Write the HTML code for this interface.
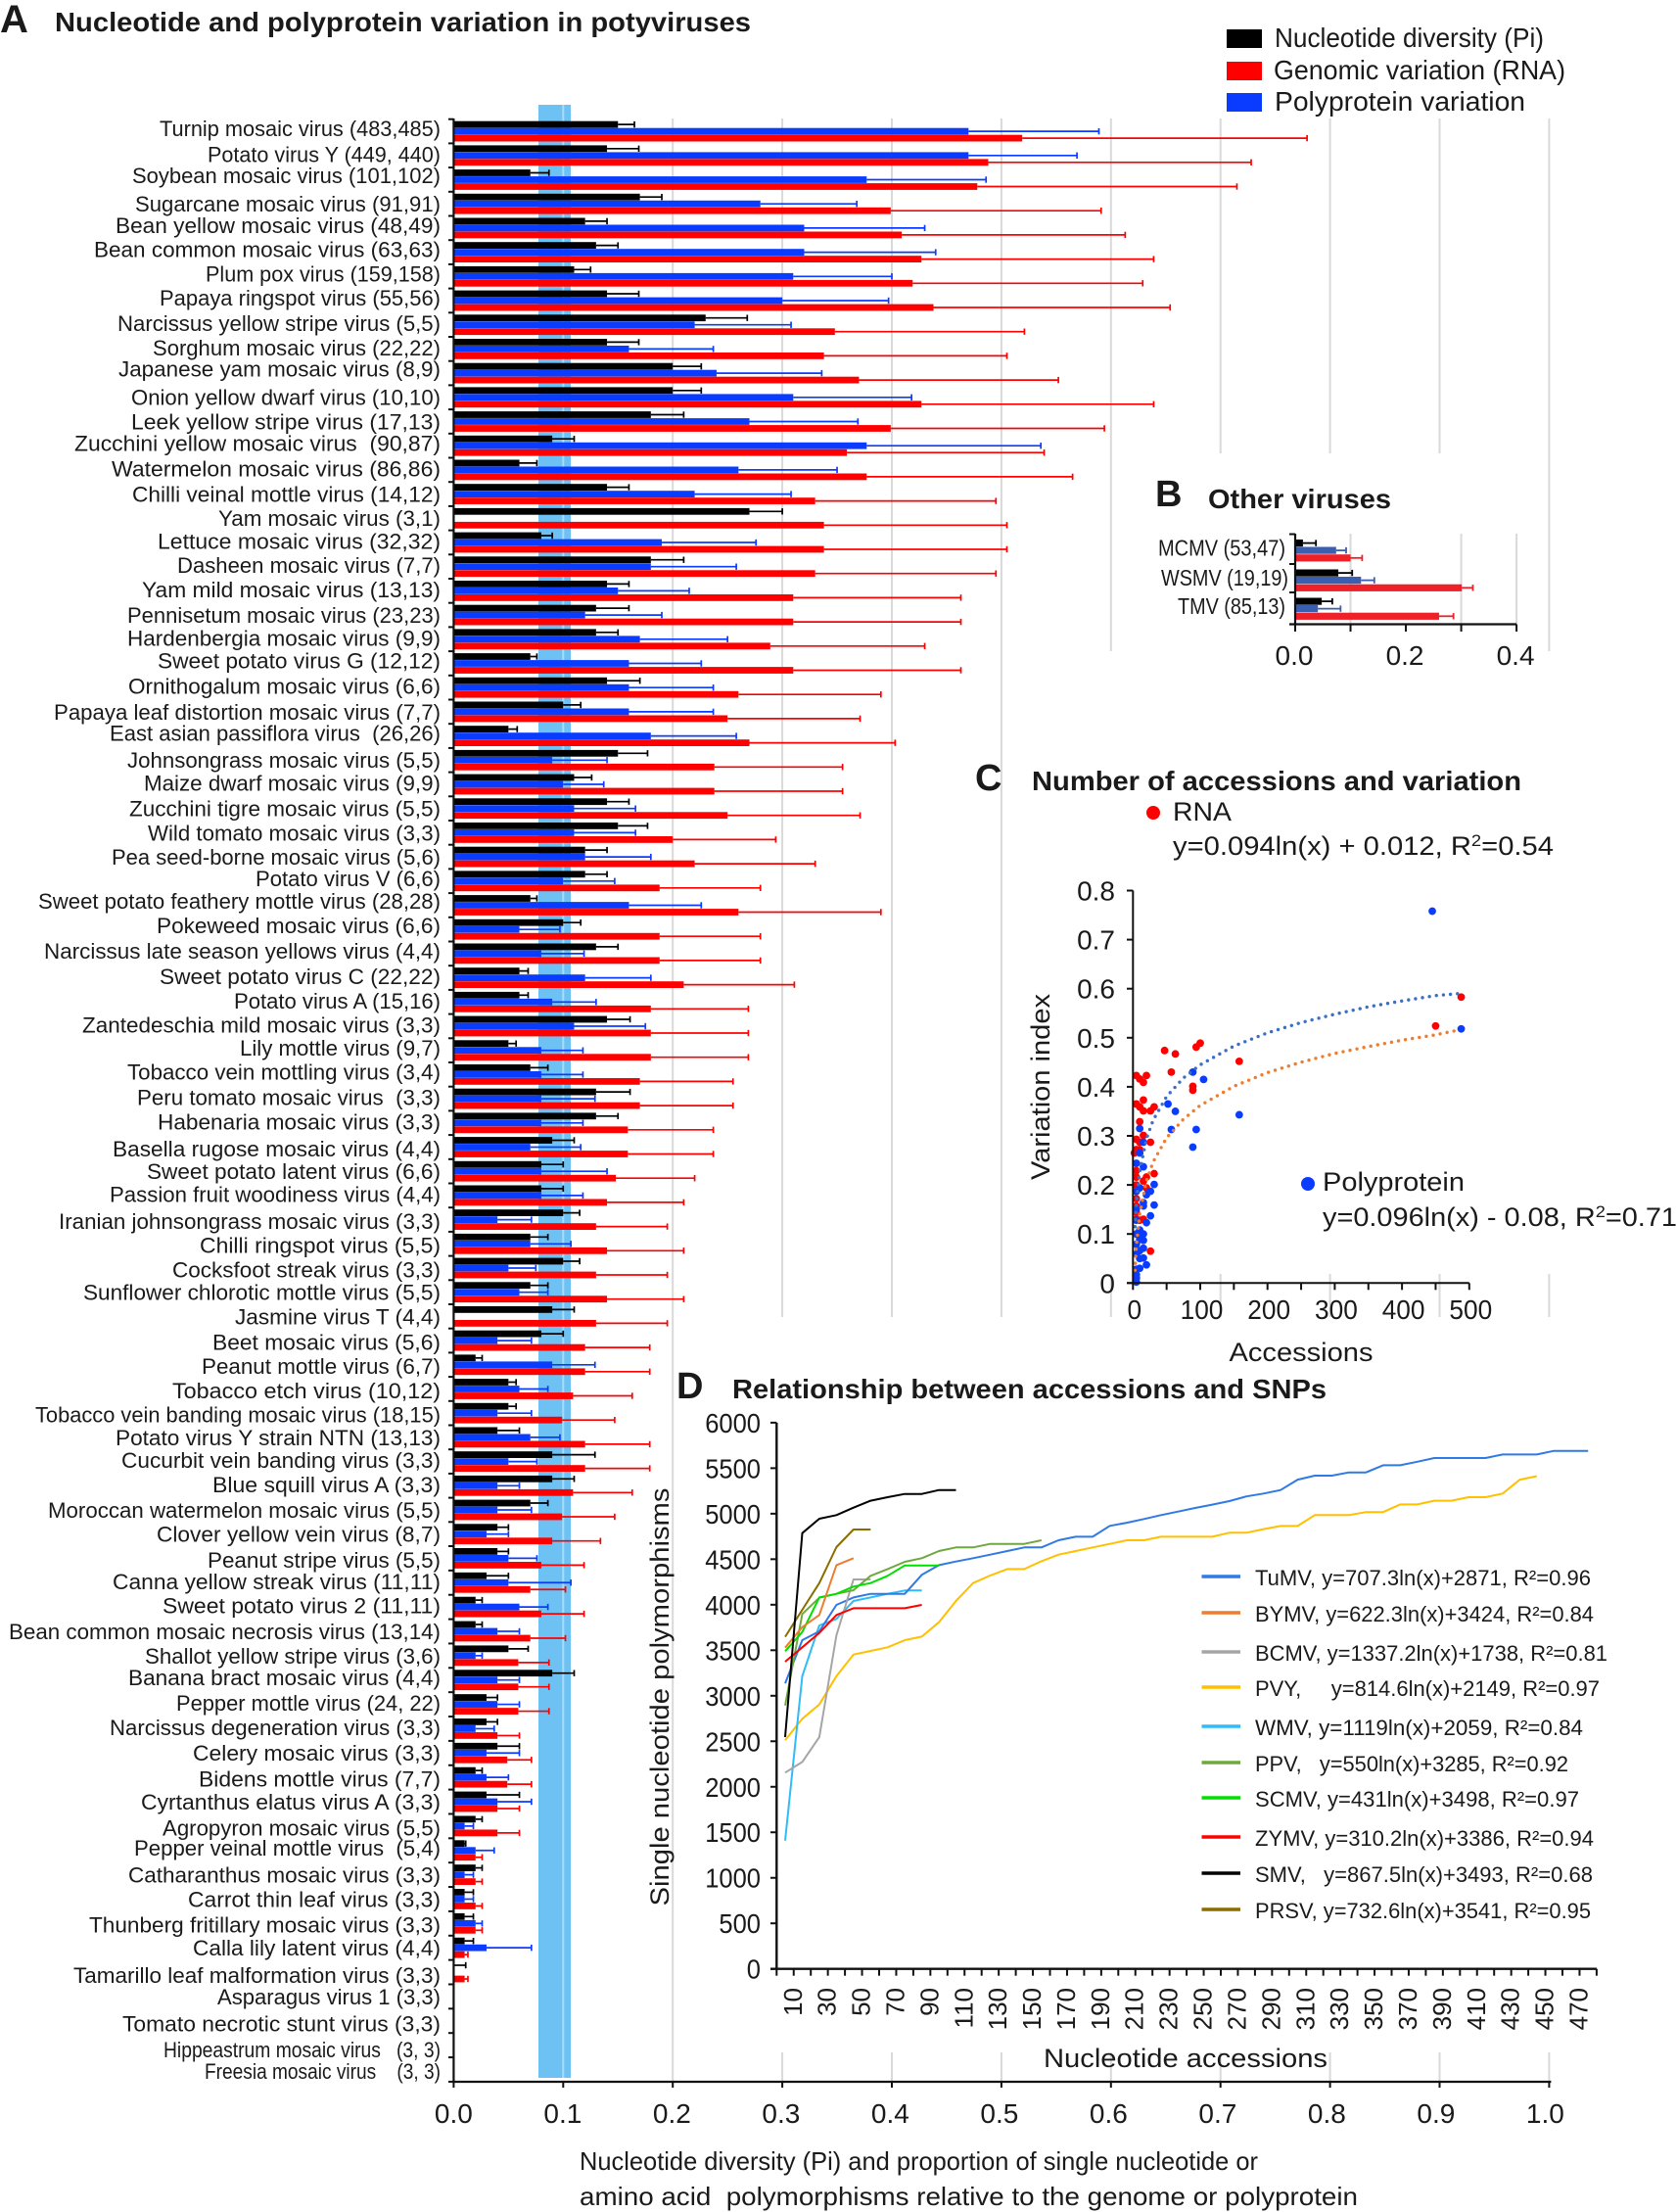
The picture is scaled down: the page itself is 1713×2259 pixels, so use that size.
<!DOCTYPE html>
<html lang="en">
<head>
<meta charset="utf-8">
<title>Nucleotide and polyprotein variation in potyviruses</title>
<style>
html,body{margin:0;padding:0;background:#fff;}
svg{display:block;font-family:"Liberation Sans",sans-serif;fill:#1a1a1a;}
svg text{white-space:pre;}
.ttl{font-weight:bold;font-size:28px;}
.pl{font-weight:bold;font-size:38px;}
.leg{font-size:28px;}
.txt{font-size:27px;}
</style>
</head>
<body>
<svg id="fig" xmlns="http://www.w3.org/2000/svg" width="1713" height="2259" viewBox="0 0 1713 2259">
  <rect x="550" y="107" width="33" height="2015" fill="#6dc1f3"/>
  <g id="gridA"></g>
  <g id="barsA"></g>
  <g id="labelsA"></g>
  <g id="axisA"></g>

  <text class="pl" x="0" y="33" style="font-size:40px">A</text>
  <text class="ttl" x="56" y="32" textLength="711" lengthAdjust="spacingAndGlyphs">Nucleotide and polyprotein variation in potyviruses</text>

  <rect x="1253" y="30" width="36" height="19" fill="#000"/>
  <text class="leg" x="1302" y="48" textLength="275" lengthAdjust="spacingAndGlyphs">Nucleotide diversity (Pi)</text>
  <rect x="1253" y="63" width="36" height="19" fill="#f00"/>
  <text class="leg" x="1301" y="81" textLength="298" lengthAdjust="spacingAndGlyphs">Genomic variation (RNA)</text>
  <rect x="1253" y="95" width="36" height="19" fill="#0a3cff"/>
  <text class="leg" x="1302" y="113" textLength="256" lengthAdjust="spacingAndGlyphs">Polyprotein variation</text>

  <text class="txt" x="592" y="2216" style="font-size:26px" textLength="693" lengthAdjust="spacingAndGlyphs">Nucleotide diversity (Pi) and proportion of single nucleotide or</text>
  <text class="txt" x="592" y="2252" style="font-size:26px" textLength="795" lengthAdjust="spacingAndGlyphs">amino acid  polymorphisms relative to the genome or polyprotein</text>

  <text class="pl" x="1180" y="517">B</text>
  <text class="ttl" x="1234" y="519" textLength="187" lengthAdjust="spacingAndGlyphs">Other viruses</text>
  <g id="panelB"></g>

  <text class="pl" x="996" y="807">C</text>
  <text class="ttl" x="1054" y="807" textLength="500" lengthAdjust="spacingAndGlyphs">Number of accessions and variation</text>
  <circle cx="1178" cy="830" r="7" fill="#f00"/>
  <text class="txt" x="1198" y="838" textLength="60" lengthAdjust="spacingAndGlyphs">RNA</text>
  <text class="txt" x="1198" y="873" textLength="389" lengthAdjust="spacingAndGlyphs">y=0.094ln(x) + 0.012, R<tspan font-size="17" dy="-9">2</tspan><tspan dy="9">=0.54</tspan></text>
  <circle cx="1336" cy="1209" r="7" fill="#0a3cff"/>
  <text class="txt" x="1351" y="1216" textLength="145" lengthAdjust="spacingAndGlyphs">Polyprotein</text>
  <text class="txt" x="1351" y="1252" textLength="362" lengthAdjust="spacingAndGlyphs">y=0.096ln(x) - 0.08, R<tspan font-size="17" dy="-9">2</tspan><tspan dy="9">=0.71</tspan></text>
  <g id="panelC"></g>
  <text class="txt" x="1329" y="1390" text-anchor="middle" textLength="147" lengthAdjust="spacingAndGlyphs">Accessions</text>
  <text class="txt" transform="translate(1072,1110) rotate(-90)" text-anchor="middle" textLength="190" lengthAdjust="spacingAndGlyphs">Variation index</text>

  <text class="pl" x="691" y="1428">D</text>
  <text class="ttl" x="748" y="1428" textLength="607" lengthAdjust="spacingAndGlyphs">Relationship between accessions and SNPs</text>
  <g id="panelD"></g>
  <text class="txt" transform="translate(683,1733) rotate(-90)" text-anchor="middle" style="font-size:27px" textLength="427" lengthAdjust="spacingAndGlyphs">Single nucleotide polymorphisms</text>
  <text class="txt" x="1211" y="2111" text-anchor="middle" textLength="290" lengthAdjust="spacingAndGlyphs">Nucleotide accessions</text>
</svg>
<script>
/* ---------- Panel A data ---------- */
const viruses = ["Turnip mosaic virus (483,485)","Potato virus Y (449, 440)","Soybean mosaic virus (101,102)","Sugarcane mosaic virus (91,91)","Bean yellow mosaic virus (48,49)","Bean common mosaic virus (63,63)","Plum pox virus (159,158)","Papaya ringspot virus (55,56)","Narcissus yellow stripe virus (5,5)","Sorghum mosaic virus (22,22)","Japanese yam mosaic virus (8,9)","Onion yellow dwarf virus (10,10)","Leek yellow stripe virus (17,13)","Zucchini yellow mosaic virus  (90,87)","Watermelon mosaic virus (86,86)","Chilli veinal mottle virus (14,12)","Yam mosaic virus (3,1)","Lettuce mosaic virus (32,32)","Dasheen mosaic virus (7,7)","Yam mild mosaic virus (13,13)","Pennisetum mosaic virus (23,23)","Hardenbergia mosaic virus (9,9)","Sweet potato virus G (12,12)","Ornithogalum mosaic virus (6,6)","Papaya leaf distortion mosaic virus (7,7)","East asian passiflora virus  (26,26)","Johnsongrass mosaic virus (5,5)","Maize dwarf mosaic virus (9,9)","Zucchini tigre mosaic virus (5,5)","Wild tomato mosaic virus (3,3)","Pea seed-borne mosaic virus (5,6)","Potato virus V (6,6)","Sweet potato feathery mottle virus (28,28)","Pokeweed mosaic virus (6,6)","Narcissus late season yellows virus (4,4)","Sweet potato virus C (22,22)","Potato virus A (15,16)","Zantedeschia mild mosaic virus (3,3)","Lily mottle virus (9,7)","Tobacco vein mottling virus (3,4)","Peru tomato mosaic virus  (3,3)","Habenaria mosaic virus (3,3)","Basella rugose mosaic virus (4,4)","Sweet potato latent virus (6,6)","Passion fruit woodiness virus (4,4)","Iranian johnsongrass mosaic virus (3,3)","Chilli ringspot virus (5,5)","Cocksfoot streak virus (3,3)","Sunflower chlorotic mottle virus (5,5)","Jasmine virus T (4,4)","Beet mosaic virus (5,6)","Peanut mottle virus (6,7)","Tobacco etch virus (10,12)","Tobacco vein banding mosaic virus (18,15)","Potato virus Y strain NTN (13,13)","Cucurbit vein banding virus (3,3)","Blue squill virus A (3,3)","Moroccan watermelon mosaic virus (5,5)","Clover yellow vein virus (8,7)","Peanut stripe virus (5,5)","Canna yellow streak virus (11,11)","Sweet potato virus 2 (11,11)","Bean common mosaic necrosis virus (13,14)","Shallot yellow stripe virus (3,6)","Banana bract mosaic virus (4,4)","Pepper mottle virus (24, 22)","Narcissus degeneration virus (3,3)","Celery mosaic virus (3,3)","Bidens mottle virus (7,7)","Cyrtanthus elatus virus A (3,3)","Agropyron mosaic virus (5,5)","Pepper veinal mottle virus  (5,4)","Catharanthus mosaic virus (3,3)","Carrot thin leaf virus (3,3)","Thunberg fritillary mosaic virus (3,3)","Calla lily latent virus (4,4)","Tamarillo leaf malformation virus (3,3)","Asparagus virus 1 (3,3)","Tomato necrotic stunt virus (3,3)","Hippeastrum mosaic virus   (3, 3)","Freesia mosaic virus    (3, 3)"];
const piValues = [.15,.14,.07,.17,.12,.13,.11,.14,.23,.14,.2,.2,.18,.09,.06,.14,.27,.08,.18,.14,.13,.13,.07,.14,.1,.05,.15,.11,.14,.15,.12,.12,.07,.1,.13,.06,.06,.14,.05,.07,.13,.13,.09,.08,.08,.1,.07,.1,.07,.09,.08,.02,.05,.05,.04,.09,.09,.07,.04,.04,.03,.02,.02,.05,.09,.03,.03,.04,.02,.03,.02,.01,.02,.01,.01,.01,0,0,0,0,0];
const piErrEnd = [.165,.169,.087,.19,.14,.15,.125,.169,.268,.169,.226,.226,.21,.11,.076,.16,.3,.09,.21,.16,.16,.15,.076,.17,.116,.058,.177,.126,.16,.177,.14,.14,.076,.116,.15,.068,.068,.161,.057,.086,.161,.15,.11,.1,.1,.115,.086,.115,.086,.11,.1,.026,.057,.057,.06,.129,.11,.086,.05,.05,.05,.026,.026,.068,.11,.04,.04,.06,.026,.06,.026,.011,.026,.018,.018,.018,.011,0,0,0,0];
const polyValues = [.47,.47,.377,.28,.32,.32,.31,.3,.22,.16,.24,.31,.27,.377,.26,.22,0,.19,.18,.15,.12,.17,.16,.16,.16,.18,.09,.1,.11,.11,.12,.1,.16,.06,.08,.12,.09,.11,.08,.08,.08,.08,.07,.08,.08,.04,.07,.05,.06,0,.04,.09,.06,.04,.07,.05,.04,.04,.03,.05,.05,.06,.04,.02,.04,.04,.02,.03,.03,.04,.01,.02,.01,.01,.02,.03,0,0,0,0,0];
const polyErrEnd = [.589,.569,.486,.368,.43,.44,.4,.397,.308,.237,.336,.418,.369,.536,.35,.308,0,.276,.258,.215,.19,.25,.226,.237,.237,.258,.14,.137,.166,.166,.18,.147,.226,.097,.119,.18,.13,.175,.118,.118,.129,.118,.116,.14,.118,.071,.107,.075,.086,0,.071,.129,.086,.071,.097,.076,.06,.071,.05,.076,.107,.086,.06,.026,.06,.06,.037,.06,.05,.071,.018,.037,.018,.018,.026,.071,0,0,0,0,0];
const rnaValues = [.519,.488,.478,.399,.409,.427,.419,.438,.348,.338,.37,.427,.399,.359,.377,.33,.338,.338,.33,.31,.31,.289,.31,.26,.25,.27,.238,.238,.25,.2,.22,.188,.26,.188,.188,.21,.18,.18,.18,.17,.17,.159,.159,.148,.14,.13,.14,.13,.14,.13,.12,.12,.109,.099,.12,.12,.109,.099,.09,.08,.07,.08,.07,.059,.059,.059,.04,.049,.049,.04,.04,.02,.02,.02,.02,.01,.01,0,0,0,0];
const rnaErrEnd = [.779,.728,.715,.591,.613,.639,.629,.654,.521,.505,.552,.639,.594,.539,.565,.495,.505,.505,.495,.463,.463,.43,.463,.39,.371,.403,.355,.355,.371,.294,.33,.28,.39,.28,.28,.311,.269,.269,.269,.255,.255,.237,.237,.22,.21,.195,.21,.195,.21,.195,.179,.179,.163,.147,.179,.179,.163,.147,.134,.119,.102,.119,.102,.087,.087,.087,.06,.071,.071,.06,.06,.026,.026,.026,.026,.013,.013,0,0,0,0];
const xTicksA = ["0.0","0.1","0.2","0.3","0.4","0.5","0.6","0.7","0.8","0.9","1.0"];

/* ---------- Panel B data ---------- */
const otherViruses = ["MCMV (53,47)","WSMV (19,19)","TMV (85,13)"];
const otherPi = [.014,.078,.048];
const otherPiErr = [.0375,.103,.067];
const otherPoly = [.074,.119,.041];
const otherPolyErr = [.092,.143,.082];
const otherRna = [.1,.301,.26];
const otherRnaErr = [.121,.321,.286];
const xTicksB = ["0.0","0.2","0.4"];

/* ---------- Panel C data ---------- */
const rnaAccessions = [488,450,158,100,94,63,47,57,89,89,20,5,10,15.5,15.5,5,10,15.5,26,31.5,10,15.5,5,10,26,5,10,2,5,31.5,20,15.5,5,5,20,5,5,5,5,5,15.5,10,26,5];
const rnaIndex = [.583,.524,.452,.489,.481,.467,.474,.43,.401,.393,.423,.423,.416,.409,.373,.365,.359,.351,.351,.359,.329,.301,.293,.287,.287,.272,.272,.265,.229,.223,.216,.208,.216,.2,.194,.187,.172,.157,.144,.13,.13,.128,.065,.01];
const polyAccessions = [445,488,158,105,89,52,63,57,94,89,10,15.5,10,5,15.5,31.5,26,20,10,5,15.5,15.5,31.5,26,20,10,15.5,5,10,15.5,5,15.5,10,5,15.5,10,20,10,5,5,5,5,5,5];
const polyIndex = [.758,.518,.343,.415,.43,.365,.35,.313,.313,.277,.315,.287,.265,.244,.237,.201,.187,.18,.194,.187,.164,.157,.159,.137,.123,.108,.1,.1,.089,.087,.079,.071,.066,.059,.051,.05,.037,.03,.028,.017,.01,.002,.151,.128];
const trendAccessions = [3,5,10,20,30,50,75,100,150,200,250,300,350,400,450,485];
const trendRna = [.115,.163,.228,.294,.332,.38,.418,.445,.483,.51,.531,.548,.563,.575,.586,.59];
const trendPoly = [.026,.075,.141,.208,.247,.296,.334,.362,.401,.429,.45,.468,.482,.495,.506,.516];
const yTicksC = ["0","0.1","0.2","0.3","0.4","0.5","0.6","0.7","0.8"];
const xTicksC = ["0","100","200","300","400","500"];

/* ---------- Panel D data ---------- */
const tuMV = [3137,3611,3708,3998,4080,4120,4120,4120,4328,4435,4475,4511,4550,4590,4629,4629,4708,4747,4747,4866,4901,4941,4984,5023,5063,5099,5138,5190,5221,5260,5374,5418,5418,5453,5453,5532,5532,5571,5611,5611,5611,5611,5650,5650,5650,5690,5690,5690];
const byMV = [3528,3754,3887,4435,4511];
const bcMV = [2155,2273,2546,3665,4278,4278];
const pVY = [2510,2747,2904,3216,3453,3492,3532,3611,3650,3808,4041,4238,4321,4392,4392,4478,4550,4590,4629,4668,4708,4708,4747,4747,4747,4747,4791,4791,4831,4865,4865,4984,4984,4984,5018,5018,5102,5102,5142,5142,5181,5181,5221,5374,5413];
const wMV = [1409,3216,3772,3844,4041,4080,4120,4156,4156];
const pPV = [2893,3898,4077,4120,4159,4317,4392,4471,4511,4590,4629,4629,4668,4668,4668,4708];
const sCMV = [3489,3700,4080,4120,4199,4238,4317,4432,4432,4432];
const zYMV = [3374,3532,3690,3887,3962,3962,3962,3962,3998];
const sMV = [2546,4787,4945,4984,5066,5142,5181,5217,5217,5260,5260];
const pRSV = [3647,3944,4238,4633,4826,4826];
const seriesNames = ["TuMV","BYMV","BCMV","PVY","WMV","PPV","SCMV","ZYMV","SMV","PRSV"];
const seriesData = [tuMV,byMV,bcMV,pVY,wMV,pPV,sCMV,zYMV,sMV,pRSV];
const seriesEquations = ["TuMV, y=707.3ln(x)+2871, R²=0.96","BYMV, y=622.3ln(x)+3424, R²=0.84","BCMV, y=1337.2ln(x)+1738, R²=0.81","PVY,     y=814.6ln(x)+2149, R²=0.97","WMV, y=1119ln(x)+2059, R²=0.84","PPV,   y=550ln(x)+3285, R²=0.92","SCMV, y=431ln(x)+3498, R²=0.97","ZYMV, y=310.2ln(x)+3386, R²=0.94","SMV,   y=867.5ln(x)+3493, R²=0.68","PRSV, y=732.6ln(x)+3541, R²=0.95"];
const yTicksD = [0,500,1000,1500,2000,2500,3000,3500,4000,4500,5000,5500,6000];
const xCategoryCount = 48;
const xLabelsD = ["10","30","50","70","90","110","130","150","170","190","210","230","250","270","290","310","330","350","370","390","410","430","450","470"];

/* ---------- Label layout (typesetting only, not data) ---------- */
const labelLeftEdge = [163,212,135,138,118,96,210,163,120,156,121,134,134,76,114,135,223,161,181,145,130,130,161,131,55,112,130,147,132,151,114,261,39,160,45,163,239,84,245,130,140,161,115,150,112,60,204,176,85,240,217,206,176,36,118,124,217,49,160,212,115,166,9,148,131,180,112,197,203,144,166,137,131,192,91,197,75,222,125,167,209];
const labelNudge = [-1.4,0,-2.9,1.4,-1.4,-1.4,-1.4,-1.4,0,0,-2.9,1.4,1.4,-1.4,0,1.4,1.4,0,0,0,1.4,0,-1.4,0,1.4,-1.4,1.4,0,1.4,1.4,1.4,-1.4,-2.9,-2.9,-1.4,0,0,0,-1.4,-1.4,0,0,2.9,1.4,0,2.9,2.9,2.9,1.4,1.4,2.9,2.9,2.9,2.9,1.4,0,0,1.4,1.4,2.9,0,0,1.4,1.4,-1.4,0,0,1.4,2.9,1.4,2.9,-1.4,1.4,1.4,2.9,1.4,4.3,1.4,4.3,5.8,2.9];

/* ---------- Drawing helpers ---------- */
const NS = "http://www.w3.org/2000/svg";
function mk(tag, attrs, parent) {
  const e = document.createElementNS(NS, tag);
  for (const k in attrs) e.setAttribute(k, attrs[k]);
  parent.appendChild(e);
  return e;
}
function line(x1, y1, x2, y2, stroke, w, parent) {
  return mk("line", {x1, y1, x2, y2, stroke, "stroke-width": w}, parent);
}

/* ---------- Panel A ---------- */
const gridA = document.getElementById("gridA");
const barsA = document.getElementById("barsA");
const labelsA = document.getElementById("labelsA");
const axisA = document.getElementById("axisA");
const xA = v => 463.4 + 1119 * v;
const rowA = n => n <= 59 ? 121.7 + n * 24.7 : 1579 + (n - 59) * 24.86;
const axisBottomA = 2126;

const gridSegments = [[.2, 121, 2126], [.3, 121, 1345], [.4, 121, 1345], [.5, 121, 1345], [.6, 121, 665], [.7, 121, 463], [.8, 121, 463], [.9, 121, 463], [1, 121, 665], [.6, 1301, 1345], [.7, 1301, 1345], [.8, 1301, 1345], [.9, 1301, 1345], [1, 1301, 1345], [.3, 2096, 2126], [.4, 2096, 2126], [.5, 2096, 2126], [.6, 2096, 2126], [.7, 2096, 2126], [.8, 2096, 2126], [.9, 2096, 2126], [1, 2096, 2126], [.1, 107, 2122]];
gridSegments.forEach(function (s) {
  const g = line(xA(s[0]), s[1], xA(s[0]), s[2], s[0] === .1 ? "#a9dcf7" : "#d9d9d9", 2, gridA);
  
  
});

function drawBarA(value, errEnd, top, color, name) {
  if (value > 0) {
    const r = mk("rect", {x: xA(0), y: top, width: xA(value) - xA(0), height: 6.8, fill: color}, barsA);
    
    
  }
  if (errEnd > value) {
    const cy = top + 3.4;
    const e = line(xA(value), cy, xA(errEnd), cy, color, 1.7, barsA);
    
    
    const c = line(xA(errEnd), cy - 3.2, xA(errEnd), cy + 3.2, color, 1.7, barsA);
    
    
  }
}
viruses.forEach(function (name, i) {
  const top = rowA(i);
  const step = rowA(i + 1) - top;
  drawBarA(piValues[i], piErrEnd[i], top + 2, "#000", "bar-pi");
  drawBarA(polyValues[i], polyErrEnd[i], top + 9, "#0a3cff", "bar-polyprotein");
  drawBarA(rnaValues[i], rnaErrEnd[i], top + 16, "#f00", "bar-rna");
  const t = mk("text", {x: 450, y: top + step / 2 + 6.5 + labelNudge[i], "text-anchor": "end", "font-size": 22, textLength: 450 - labelLeftEdge[i], lengthAdjust: "spacingAndGlyphs"}, labelsA);
  t.textContent = name;
  
  
});
for (let i = 0; i <= viruses.length; i++) {
  const k = line(458, rowA(i), 463.4, rowA(i), "#111", 2, axisA);
  
  
}
const axAy = line(463.4, 121, 463.4, axisBottomA + 1, "#111", 2.2, axisA);


const axAx = line(462, axisBottomA, xA(1) + 2, axisBottomA, "#111", 2.2, axisA);


xTicksA.forEach(function (lab) {
  const v = parseFloat(lab);
  const k = line(xA(v), axisBottomA, xA(v), axisBottomA + 6, "#111", 2, axisA);
  
  
  const t = mk("text", {x: xA(v) - 4 * v, y: 2168, "text-anchor": "middle", "font-size": 28}, axisA);
  t.textContent = lab;
  
  
});

/* ---------- Panel B ---------- */
const panelB = document.getElementById("panelB");
const xB = v => 1323 + 1040 / 1.84 * v;
const topB = [545.5, 576, 605, 637.5];
[.1, .3, .4].forEach(function (v) {
  const g = line(xB(v), 545, xB(v), 637, "#d9d9d9", 2, panelB);
  
  
});
function drawBarB(value, errEnd, top, h, color, name) {
  const r = mk("rect", {x: xB(0), y: top, width: xB(value) - xB(0), height: h, fill: color}, panelB);
  
  
  const e = line(xB(value), top + h / 2, xB(errEnd), top + h / 2, color, 1.8, panelB);
  
  
  const c = line(xB(errEnd), top + h / 2 - 3.2, xB(errEnd), top + h / 2 + 3.2, color, 1.8, panelB);
  
  
}
otherViruses.forEach(function (name, i) {
  const t0 = topB[i] + 5.5;
  drawBarB(otherPi[i], otherPiErr[i], t0, 7.2, "#000", "other-bar-pi");
  drawBarB(otherPoly[i], otherPolyErr[i], t0 + 7.5, 7.2, "#3a5fb0", "other-bar-polyprotein");
  drawBarB(otherRna[i], otherRnaErr[i], t0 + 15.2, 7.2, "#ee2028", "other-bar-rna");
  const t = mk("text", {x: i === 1 ? 1316 : 1313, y: topB[i] + 22, "text-anchor": "end", "font-size": 23, textLength: [130, 130, 110][i], lengthAdjust: "spacingAndGlyphs"}, panelB);
  t.textContent = name;
  
  
});
topB.forEach(function (y) {
  const k = line(1317, y, 1323, y, "#111", 2, panelB);
  
  
});
const axBy = line(1323, 545, 1323, 638, "#111", 2.2, panelB);


const axBx = line(1317, 637.5, xB(.4), 637.5, "#111", 2.2, panelB);


[0, .1, .2, .3, .4].forEach(function (v) {
  const k = line(xB(v), 637.5, xB(v), 645, "#111", 2, panelB);
  
  
});
xTicksB.forEach(function (lab) {
  const t = mk("text", {x: xB(parseFloat(lab)) - 1, y: 679, "text-anchor": "middle", "font-size": 28}, panelB);
  t.textContent = lab;
  
  
});

/* ---------- Panel C ---------- */
const panelC = document.getElementById("panelC");
const xC = v => 1157.3 + 0.687 * v;
const yC = v => 1310.3 - 501 * v;
rnaAccessions.forEach(function (a, i) {
  const c = mk("circle", {cx: xC(a), cy: yC(rnaIndex[i]), r: 3.9, fill: "#f00"}, panelC);
  
  
});
polyAccessions.forEach(function (a, i) {
  const c = mk("circle", {cx: xC(a), cy: yC(polyIndex[i]), r: 3.9, fill: "#0a3cff"}, panelC);
  
  
});
function trendPath(values) {
  return values.map((v, i) => (i ? "L" : "M") + xC(trendAccessions[i]).toFixed(1) + " " + yC(v).toFixed(1)).join("");
}
const tr1 = mk("path", {d: trendPath(trendRna), fill: "none", stroke: "#3a6fc4", "stroke-width": 3.4, "stroke-linecap": "round", "stroke-dasharray": "0 7.2"}, panelC);


const tr2 = mk("path", {d: trendPath(trendPoly), fill: "none", stroke: "#ed7d31", "stroke-width": 3.4, "stroke-linecap": "round", "stroke-dasharray": "0 7.2"}, panelC);


const axCy = line(1157.3, yC(.8), 1157.3, yC(0) + 1, "#111", 2, panelC);


const axCx = line(1151, yC(0), xC(500), yC(0), "#111", 2, panelC);


yTicksC.forEach(function (lab) {
  const v = parseFloat(lab);
  const k = line(1151, yC(v), 1157.3, yC(v), "#111", 2, panelC);
  
  
  const t = mk("text", {x: 1139, y: yC(v) + 10, "text-anchor": "end", "font-size": 28}, panelC);
  t.textContent = lab;
  
  
});
for (let a = 0; a <= 500; a += 50) {
  const k = line(xC(a), yC(0), xC(a), yC(0) + 7, "#111", 2, panelC);
  
  
}
xTicksC.forEach(function (lab) {
  const t = mk("text", {x: xC(parseFloat(lab)) + 1.5, y: 1347, "text-anchor": "middle", "font-size": 28, textLength: lab.length * 14.6, lengthAdjust: "spacingAndGlyphs"}, panelC);
  t.textContent = lab;
  
  
});

/* ---------- Panel D ---------- */
const panelD = document.getElementById("panelD");
const seriesColors = ["#2f7ae5", "#ed7d31", "#a5a5a5", "#ffc000", "#2fbcf8", "#6fa83f", "#00e000", "#f00", "#000", "#8a6d00"];
const drawOrder = [3, 4, 0, 2, 5, 6, 7, 1, 9, 8];
const xBand = 837.6 / xCategoryCount;
const xD = i => 793.3 + xBand * (i + 0.5);
const yD = v => 2010.7 - 0.09297 * v;
drawOrder.forEach(function (s) {
  const d = seriesData[s].map((v, i) => (i ? "L" : "M") + xD(i).toFixed(1) + " " + yD(v).toFixed(1)).join("");
  const p = mk("path", {d: d, fill: "none", stroke: seriesColors[s], "stroke-width": 2, "stroke-linejoin": "round"}, panelD);
  
  
});
const legendYD = [1610, 1647, 1687, 1723, 1763, 1800, 1836, 1876, 1913, 1950];
const legendWidths = [343, 346, 360, 352, 335, 320, 331, 346, 345, 343];
seriesEquations.forEach(function (eq, i) {
  const y = legendYD[i];
  const l = line(1227.5, y, 1267, y, seriesColors[i], 3.4, panelD);
  
  
  const t = mk("text", {x: 1282, y: y + 9, "font-size": 22, textLength: legendWidths[i], lengthAdjust: "spacingAndGlyphs"}, panelD);
  t.textContent = eq;
  
  
});
const axDy = line(793.3, yD(6000), 793.3, yD(0) + 1, "#111", 2.4, panelD);


const axDx = line(787, yD(0), 793.3 + 837.6, yD(0), "#111", 2.4, panelD);


yTicksD.forEach(function (v) {
  const k = line(787, yD(v), 793.3, yD(v), "#111", 2, panelD);
  
  
  const lab = String(v);
  const t = mk("text", {x: 777, y: yD(v) + 10, "text-anchor": "end", "font-size": 28, textLength: lab.length * 14.2, lengthAdjust: "spacingAndGlyphs"}, panelD);
  t.textContent = lab;
  
  
});
for (let i = 0; i <= xCategoryCount; i++) {
  const x = 793.3 + xBand * i;
  const k = line(x, yD(0), x, yD(0) + 7, "#111", 2, panelD);
  
  
}
xLabelsD.forEach(function (lab, i) {
  const x = xD(i * 2) + xBand / 2 + 8;
  const t = mk("text", {transform: "translate(" + x.toFixed(1) + ",2030) rotate(-90)", "text-anchor": "end", "font-size": 26}, panelD);
  t.textContent = lab;
  
  
});
</script>
</body>
</html>
